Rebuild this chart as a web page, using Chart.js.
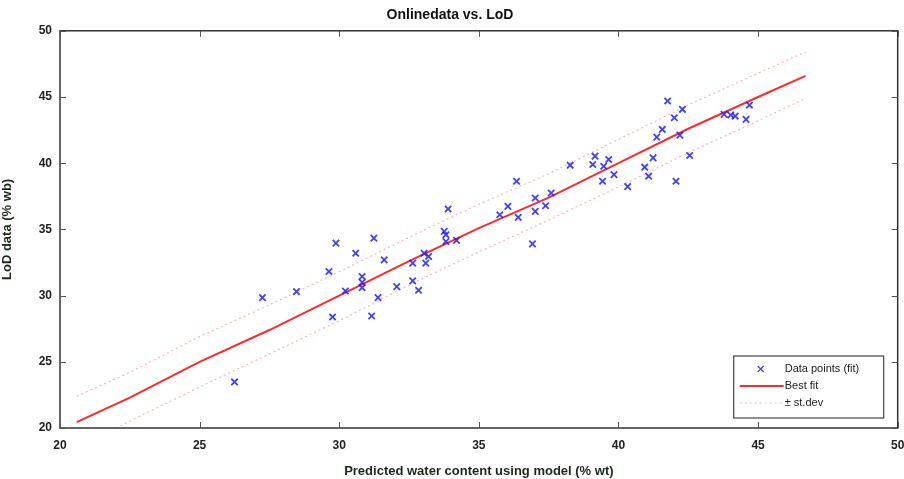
<!DOCTYPE html>
<html>
<head>
<meta charset="utf-8">
<script src="https://cdn.jsdelivr.net/npm/chart.js@4.4.1/dist/chart.umd.min.js"></script>
<style>
  html, body { margin: 0; padding: 0; background: #fff; }
  #wrap { width: 904px; height: 479px; }
</style>
</head>
<body>
<div id="wrap"><canvas id="chart"></canvas></div>
<script>
// measured points (x = predicted, y = LoD)
const dataX = [26.25, 27.25, 28.47, 29.63, 29.76, 29.88, 30.22, 30.59, 30.82, 30.82,
  30.82, 31.16, 31.24, 31.39, 31.61, 32.06, 32.63, 32.84, 32.63, 33.04,
  33.10, 33.20, 33.76, 33.82, 33.82, 33.90, 34.20, 35.75, 36.04, 36.41,
  36.35, 36.92, 37.02, 37.02, 37.39, 37.59, 38.27, 39.08, 39.16, 39.43,
  39.47, 39.65, 39.84, 40.33, 40.94, 41.08, 41.24, 41.37, 41.57, 41.76,
  42.00, 42.06, 42.20, 42.29, 42.55, 43.78, 44.02, 44.18, 44.57, 44.69];
const dataY = [23.48, 29.85, 30.30, 31.82, 28.38, 33.96, 30.35, 33.20, 31.44, 31.00,
  30.60, 28.46, 34.34, 29.85, 32.70, 30.68, 31.11, 30.40, 32.45, 33.20,
  32.45, 32.95, 34.85, 34.60, 34.09, 36.54, 34.17, 36.11, 36.74, 35.91,
  38.64, 33.91, 37.37, 36.36, 36.79, 37.75, 39.85, 39.90, 40.53, 38.64,
  39.77, 40.28, 39.14, 38.23, 39.70, 39.02, 40.40, 41.97, 42.55, 44.70,
  43.43, 38.64, 42.12, 44.07, 40.58, 43.69, 43.64, 43.56, 43.31, 44.39];

// best fit and +/- st.dev curves
const fitX = [20.6, 22.5, 25, 27.5, 30, 32.5, 35, 37.5, 40, 42.5, 45, 46.7];
const fitY = [20.45, 22.3, 25.0, 27.4, 30.0, 32.6, 35.1, 37.4, 40.0, 42.6, 45.0, 46.6];
const upperY = [22.4, 24.2, 26.9, 29.3, 31.8, 34.4, 36.9, 39.2, 41.8, 44.4, 46.8, 48.4];
const lowerX = [22.0, 25, 27.5, 30, 32.5, 35, 37.5, 40, 42.5, 45, 46.7];
const lowerY = [20.0, 23.1, 25.6, 28.1, 30.8, 33.3, 35.7, 38.2, 40.8, 43.2, 44.9];

const xTicks = [20, 25, 30, 35, 40, 45, 50];
const yTicks = [20, 25, 30, 35, 40, 45, 50];

const pts = (xs, ys) => xs.map((x, i) => ({ x: x, y: ys[i] }));

const blue = 'rgba(30,30,255,0.85)';
const red = 'rgba(255,30,30,0.95)';
const pink = 'rgba(255,130,130,0.6)';
const font = '"Liberation Sans", Arial, sans-serif';

// MATLAB style box with inward ticks on all four sides
const boxPlugin = {
    id: 'box',
    afterDraw(chart) {
        const ctx = chart.ctx;
        const a = chart.chartArea;
        const xs = chart.scales.x, ys = chart.scales.y;
        ctx.save();
        ctx.strokeStyle = '#333';
        ctx.lineWidth = 1.5;
        ctx.strokeRect(a.left, a.top, a.right - a.left, a.bottom - a.top);
        ctx.lineWidth = 1;
        ctx.strokeStyle = '#555';
        ctx.beginPath();
        xTicks.forEach(v => {
            const px = Math.round(xs.getPixelForValue(v)) + 0.5;
            ctx.moveTo(px, a.bottom); ctx.lineTo(px, a.bottom - 6);
            ctx.moveTo(px, a.top); ctx.lineTo(px, a.top + 6);
        });
        yTicks.forEach(v => {
            const py = Math.round(ys.getPixelForValue(v)) + 0.5;
            ctx.moveTo(a.left, py); ctx.lineTo(a.left + 6, py);
            ctx.moveTo(a.right, py); ctx.lineTo(a.right - 6, py);
        });
        ctx.stroke();

        // legend box in the lower right corner
        const w = 150, h = 62;
        const lx = a.right - 14 - w, ly = a.bottom - 10 - h;
        ctx.fillStyle = '#fff';
        ctx.fillRect(lx, ly, w, h);
        ctx.strokeStyle = '#444';
        ctx.lineWidth = 1.2;
        ctx.strokeRect(lx, ly, w, h);
        ctx.font = '11px ' + font;
        ctx.textBaseline = 'middle';
        const sets = chart.data.datasets;
        for (let i = 0; i < 3; i++) {
            const ds = sets[i];
            const cy = ly + 13 + i * 17;
            if (i === 0) {
                ctx.strokeStyle = ds.borderColor;
                ctx.lineWidth = 1.2;
                ctx.beginPath();
                ctx.moveTo(lx + 24, cy - 3); ctx.lineTo(lx + 30, cy + 3);
                ctx.moveTo(lx + 30, cy - 3); ctx.lineTo(lx + 24, cy + 3);
                ctx.stroke();
            } else {
                ctx.strokeStyle = ds.borderColor;
                ctx.lineWidth = ds.borderWidth;
                ctx.setLineDash(ds.borderDash || []);
                ctx.beginPath();
                ctx.moveTo(lx + 6, cy); ctx.lineTo(lx + 50, cy);
                ctx.stroke();
                ctx.setLineDash([]);
            }
            ctx.fillStyle = '#222';
            ctx.fillText(ds.label, lx + 51, cy);
        }
        ctx.restore();
    }
};

new Chart(document.getElementById('chart'), {
    type: 'scatter',
    data: {
        datasets: [{
            label: 'Data points (fit)',
            data: pts(dataX, dataY),
            pointStyle: 'crossRot',
            pointRadius: 4.5,
            borderColor: blue,
            backgroundColor: blue,
            borderWidth: 1.8,
            order: 0
        }, {
            label: 'Best fit',
            data: pts(fitX, fitY),
            showLine: true,
            pointRadius: 0,
            borderColor: red,
            borderWidth: 2,
            order: 1
        }, {
            label: '\u00b1 st.dev',
            data: pts(fitX, upperY),
            showLine: true,
            pointRadius: 0,
            borderColor: pink,
            borderWidth: 1.2,
            borderDash: [2, 3],
            order: 2
        }, {
            label: 'lower',
            data: pts(lowerX, lowerY),
            showLine: true,
            pointRadius: 0,
            borderColor: pink,
            borderWidth: 1.2,
            borderDash: [2, 3],
            order: 2
        }]
    },
    options: {
        responsive: true,
        maintainAspectRatio: false,
        animation: false,
        clip: 0,
        layout: { padding: { left: 0, right: 4, top: 4, bottom: 0 } },
        plugins: {
            legend: { display: false },
            tooltip: { enabled: false },
            title: {
                display: true,
                text: 'Onlinedata vs. LoD',
                color: '#111',
                font: { family: font, size: 14, weight: 'bold' },
                padding: { top: 3, bottom: 7 }
            }
        },
        scales: {
            x: {
                type: 'linear',
                min: 20, max: 50,
                afterBuildTicks: s => { s.ticks = xTicks.map(v => ({ value: v })); },
                afterFit: s => { s.height = 51; s.paddingRight = 0; s.paddingLeft = 0; },
                grid: { display: false, drawTicks: false },
                border: { display: false },
                ticks: {
                    color: '#222',
                    padding: 10,
                    font: { family: font, size: 12, weight: 'bold' }
                },
                title: {
                    display: true,
                    text: 'Predicted water content using model (% wt)',
                    color: '#1a2a1a',
                    font: { family: font, size: 13, weight: 'bold' },
                    padding: { top: 2, bottom: 0 }
                }
            },
            y: {
                type: 'linear',
                min: 20, max: 50,
                afterBuildTicks: s => { s.ticks = yTicks.map(v => ({ value: v })); },
                afterFit: s => { s.width = 60; s.paddingTop = 0; s.paddingBottom = 0; },
                grid: { display: false, drawTicks: false },
                border: { display: false },
                ticks: {
                    color: '#222',
                    padding: 8,
                    font: { family: font, size: 12, weight: 'bold' }
                },
                title: {
                    display: true,
                    text: 'LoD data (% wb)',
                    color: '#1a2a1a',
                    font: { family: font, size: 13, weight: 'bold' },
                    padding: { top: 0, bottom: 4 }
                }
            }
        }
    },
    plugins: [boxPlugin]
});
</script>
</body>
</html>
